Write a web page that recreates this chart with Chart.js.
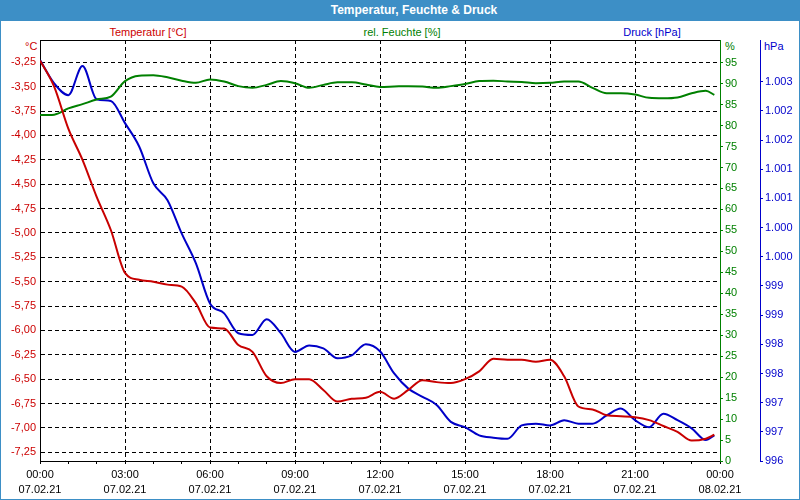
<!DOCTYPE html>
<html>
<head>
<meta charset="utf-8">
<script src="https://cdn.jsdelivr.net/npm/chart.js@4"></script>
<style>
  body { margin: 0; background: #fff; }
  #wrap { position: relative; width: 800px; height: 500px; overflow: hidden; font-family: "Liberation Sans", Arial, sans-serif; font-size: 11px; }
  #chart { position: absolute; left: 0; top: 0; }
  .lbl { position: absolute; white-space: nowrap; line-height: 14px; }
  #titleBar { position: absolute; left: 0; top: 0; width: 800px; height: 21px; background: #3d8fc6; }
  #title { position: absolute; left: 0; top: 3px; width: 828px; text-align: center; color: #fff; font-weight: bold; font-size: 12px; line-height: 15px; }
  #frame { position: absolute; left: 0; top: 0; width: 800px; height: 500px; box-sizing: border-box; border: 1px solid #3d8fc6; pointer-events: none; }
</style>
</head>
<body>
<div id="wrap">
  <div id="titleBar"></div>
  <div id="title">Temperatur, Feuchte &amp; Druck</div>
  <div class="lbl" style="left:0;width:296px;text-align:center;top:25px;color:#cc0000">Temperatur [°C]</div>
  <div class="lbl" style="left:0;width:804px;text-align:center;top:25px;color:#008000">rel. Feuchte [%]</div>
  <div class="lbl" style="left:0;width:1304px;text-align:center;top:25px;color:#0000cc">Druck [hPa]</div>
  <div class="lbl" style="left:25px;top:39px;color:#cc0000">°C</div>
  <div class="lbl" style="left:725px;top:39px;color:#008000">%</div>
  <div class="lbl" style="left:764px;top:39px;color:#0000cc">hPa</div>
  <canvas id="chart" width="800" height="500"></canvas>
  <div id="frame"></div>
</div>
<script>
// hours since 07.02.21 00:00
let hours = [];
for (let i = 0; i < 48; i++) hours.push(i / 2);
hours.push(23.8);

let temperatur = [
  -3.23, -3.50, -3.93, -4.25, -4.63, -4.97, -5.41, -5.48, -5.50, -5.53, -5.55, -5.72,
  -5.97, -5.98, -6.15, -6.22, -6.47, -6.54, -6.50, -6.50, -6.61, -6.73, -6.70, -6.69,
  -6.63, -6.70, -6.61, -6.51, -6.53, -6.54, -6.50, -6.42, -6.29, -6.30, -6.30, -6.32,
  -6.30, -6.47, -6.78, -6.81, -6.87, -6.88, -6.89, -6.92, -6.98, -7.04, -7.13, -7.11,
  -7.07
];

let feuchte = [
  82.5, 82.6, 84.1, 85.1, 86.2, 86.9, 90.6, 91.9, 92.0, 91.5, 90.7, 90.2,
  91.0, 90.5, 89.4, 89.0, 89.7, 90.6, 90.1, 89.0, 89.7, 90.3, 90.3, 89.8,
  89.2, 89.3, 89.4, 89.3, 89.0, 89.4, 89.9, 90.6, 90.7, 90.5, 90.4, 90.1,
  90.2, 90.5, 90.5, 89.0, 87.7, 87.7, 87.4, 86.6, 86.5, 86.7, 87.7, 88.3,
  87.3
];

let druck = [
  1002.87, 1002.47, 1002.27, 1002.77, 1002.20, 1002.17, 1001.79, 1001.39, 1000.76, 1000.47, 999.90, 999.39,
  998.70, 998.53, 998.19, 998.16, 998.43, 998.19, 997.87, 997.98, 997.93, 997.76, 997.81, 998.00,
  997.88, 997.50, 997.24, 997.10, 996.96, 996.67, 996.58, 996.44, 996.40, 996.38, 996.61, 996.64,
  996.61, 996.70, 996.64, 996.64, 996.78, 996.90, 996.70, 996.58, 996.81, 996.70, 996.56, 996.36,
  996.44
];

let timeLabels = ["00:00", "03:00", "06:00", "09:00", "12:00", "15:00", "18:00", "21:00", "00:00"];
let dateLabels = ["07.02.21", "07.02.21", "07.02.21", "07.02.21", "07.02.21", "07.02.21", "07.02.21", "07.02.21", "08.02.21"];

function pts(arr) {
  return hours.map((h, i) => ({ x: h, y: arr[i] }));
}

Chart.defaults.font.family = "'Liberation Sans', Arial, sans-serif";
Chart.defaults.font.size = 11;

// top border of the plot
let frameLine = {
  id: "frameLine",
  afterDraw(chart) {
    let a = chart.chartArea;
    let ctx = chart.ctx;
    ctx.save();
    ctx.strokeStyle = "#000";
    ctx.lineWidth = 1;
    ctx.beginPath();
    ctx.moveTo(a.left, Math.round(a.top) + 0.5);
    ctx.lineTo(a.right, Math.round(a.top) + 0.5);
    ctx.stroke();
    ctx.restore();
  }
};

let lineStyle = { pointRadius: 0, borderWidth: 2, cubicInterpolationMode: "monotone", fill: false };

new Chart("chart", {
  type: "line",
  data: {
    datasets: [
      Object.assign({ label: "Temperatur [°C]", data: pts(temperatur), borderColor: "#c80000", yAxisID: "y" }, lineStyle),
      Object.assign({ label: "rel. Feuchte [%]", data: pts(feuchte), borderColor: "#008000", yAxisID: "y1" }, lineStyle),
      Object.assign({ label: "Druck [hPa]", data: pts(druck), borderColor: "#0000c8", yAxisID: "y2" }, lineStyle)
    ]
  },
  options: {
    responsive: false,
    animation: false,
    layout: { padding: { top: 40, left: 0, right: 0, bottom: 0 } },
    plugins: { legend: { display: false }, tooltip: { enabled: false }, title: { display: false } },
    scales: {
      x: {
        type: "linear",
        min: 0,
        max: 24,
        afterFit: s => { s.height = 39; },
        grid: {
          color: c => (c.tick && c.tick.value % 3 === 0 && c.tick.value > 0 && c.tick.value < 24) ? "#000" : "rgba(0,0,0,0)",
          tickColor: "#000",
          tickLength: 3
        },
        border: { color: "#000", dash: [4, 3] },
        ticks: {
          stepSize: 1,
          autoSkip: false,
          maxRotation: 0,
          minRotation: 0,
          padding: 3,
          color: "#000",
          font: { lineHeight: "15px" },
          callback: v => (v % 3 === 0) ? [timeLabels[v / 3], dateLabels[v / 3]] : ""
        }
      },
      y: {
        position: "left",
        min: -7.339,
        max: -3.021,
        afterFit: s => { s.width = 40; },
        grid: { color: "#000", drawTicks: false },
        border: { color: "#000", dash: [4, 3] },
        ticks: {
          stepSize: 0.25,
          includeBounds: false,
          padding: 4,
          color: "#cc0000",
          callback: v => v.toFixed(2).replace(".", ",")
        }
      },
      y1: {
        position: "right",
        min: 0,
        max: 100.4,
        afterFit: s => { s.width = 40; },
        afterBuildTicks: s => { s.ticks = s.ticks.filter(t => t.value <= 95); },
        grid: { drawOnChartArea: false, color: "#008000", tickLength: 3 },
        border: { color: "#008000" },
        ticks: { stepSize: 5, includeBounds: false, padding: 2, color: "#008000" }
      },
      y2: {
        position: "right",
        min: 996,
        max: 1003.215,
        afterFit: s => { s.width = 40; },
        afterBuildTicks: s => { s.ticks = s.ticks.filter(t => t.value <= 1002.5); },
        grid: { drawOnChartArea: false, color: "#0000cc", tickLength: 3 },
        border: { color: "#0000cc" },
        ticks: {
          stepSize: 0.5,
          includeBounds: false,
          padding: 2,
          color: "#0000cc",
          callback: v => Math.round(v).toLocaleString("de-DE")
        }
      }
    }
  },
  plugins: [frameLine]
});
</script>
</body>
</html>
